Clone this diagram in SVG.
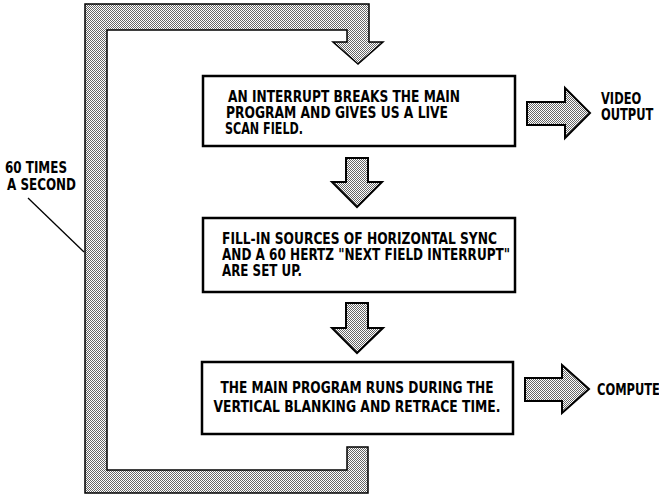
<svg xmlns="http://www.w3.org/2000/svg" width="659" height="496" viewBox="0 0 659 496">
<defs>
<pattern id="dots" width="2" height="2" patternUnits="userSpaceOnUse">
<rect width="2" height="2" fill="#ffffff"/>
<rect x="0" y="0" width="1" height="1" fill="#666"/>
<rect x="1" y="1" width="1" height="1" fill="#666"/>
</pattern>
<style>
.box{fill:#fff;stroke:#000;stroke-width:2.5}
.band{fill:url(#dots);stroke:#000;stroke-width:1.5;stroke-linejoin:miter}
.arr{fill:url(#dots);stroke:#000;stroke-width:2;stroke-linejoin:miter}
.t{font-family:"Liberation Sans Narrow","DejaVu Sans Condensed","Liberation Sans",Arial,sans-serif;font-weight:bold;font-size:15px;fill:#000}
.lead{stroke:#000;stroke-width:1.3;fill:none}
</style>
</defs>
<rect width="659" height="496" fill="#fff"/>
<g id="connectors">
<path id="loop" class="band" d="M85,4 L369,4 L369,42 L383,42 L358,64 L333,42 L347,42 L347,30 L107,30 L107,470 L347,470 L347,447 L368,447 L368,493 L85,493 Z"/>
<path id="arrow-1-2" class="arr" d="M346,158 L368,158 L368,182 L382,182 L357,207 L332,182 L346,182 Z"/>
<path id="arrow-2-3" class="arr" d="M346,303 L368,303 L368,328 L383,328 L357,353 L332,328 L346,328 Z"/>
<path id="arrow-video" class="arr" d="M527,102 L565,102 L565,88 L590,113 L565,138 L565,125 L527,125 Z"/>
<path id="arrow-compute" class="arr" d="M525,378 L562,378 L562,365 L589,389 L562,413 L562,401 L525,401 Z"/>
<line class="lead" x1="28" y1="198" x2="84" y2="252"/>
</g>
<g id="box1">
<rect class="box" x="203" y="76" width="312" height="70"/>
<text class="t" x="228" y="102" textLength="232" lengthAdjust="spacingAndGlyphs">AN INTERRUPT BREAKS THE MAIN</text>
<text class="t" x="226" y="118" textLength="222" lengthAdjust="spacingAndGlyphs">PROGRAM AND GIVES US A LIVE</text>
<text class="t" x="225" y="134" textLength="78" lengthAdjust="spacingAndGlyphs">SCAN FIELD.</text>
</g>
<g id="box2">
<rect class="box" x="203" y="218" width="312" height="74"/>
<text class="t" x="222" y="244" textLength="275" lengthAdjust="spacingAndGlyphs">FILL-IN SOURCES OF HORIZONTAL SYNC</text>
<text class="t" x="222" y="260" textLength="288" lengthAdjust="spacingAndGlyphs">AND A 60 HERTZ "NEXT FIELD INTERRUPT"</text>
<text class="t" x="222" y="276" textLength="80" lengthAdjust="spacingAndGlyphs">ARE SET UP.</text>
</g>
<g id="box3">
<rect class="box" x="202" y="362" width="311" height="72"/>
<text class="t" x="357" y="393" text-anchor="middle" textLength="273" lengthAdjust="spacingAndGlyphs">THE MAIN PROGRAM RUNS DURING THE</text>
<text class="t" x="357" y="412" text-anchor="middle" textLength="287" lengthAdjust="spacingAndGlyphs">VERTICAL BLANKING AND RETRACE TIME.</text>
</g>
<g id="video-output">
<text class="t" transform="translate(601,104) scale(0.85,1)">VIDEO</text>
<text class="t" transform="translate(601,120) scale(0.85,1)">OUTPUT</text>
</g>
<g id="compute">
<text class="t" transform="translate(597,395) scale(0.85,1)">COMPUTE</text>
</g>
<g id="label-60">
<text class="t" x="5" y="173" textLength="62" lengthAdjust="spacingAndGlyphs">60 TIMES</text>
<text class="t" x="7" y="190" textLength="69" lengthAdjust="spacingAndGlyphs">A SECOND</text>
</g>
</svg>
